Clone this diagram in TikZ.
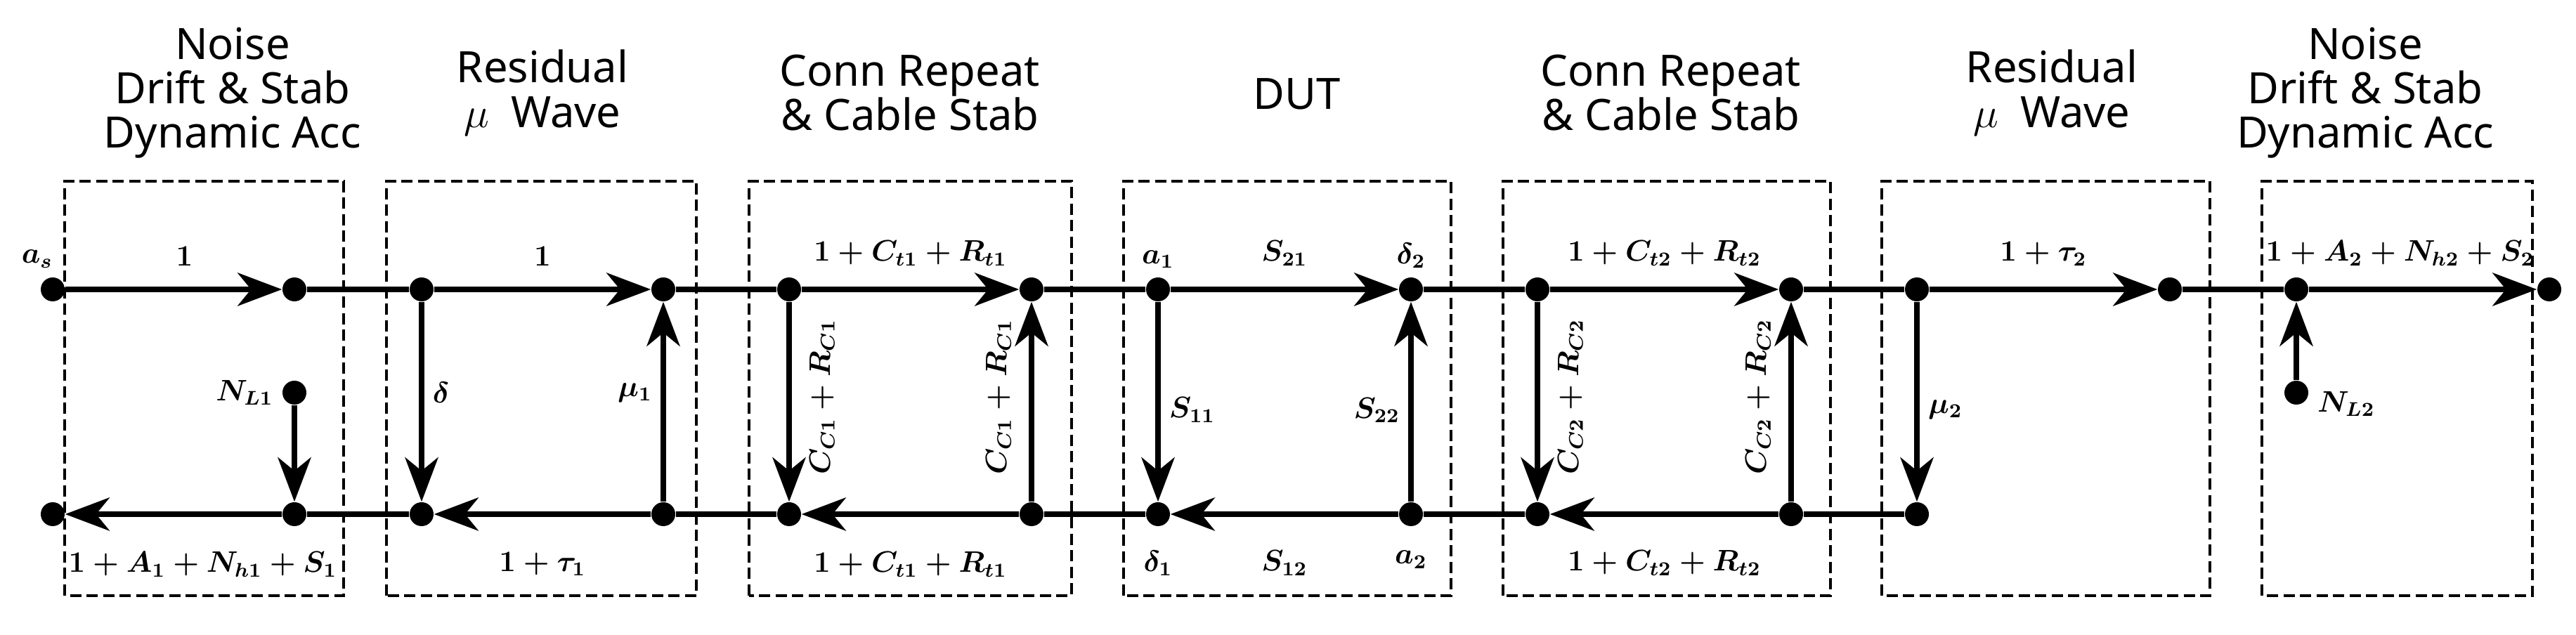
\documentclass[tikz,border=0pt]{standalone}
\usepackage{amsmath, amssymb, bm}
\usepackage[no-math]{fontspec}
\setmainfont{Noto Sans}
\usetikzlibrary{arrows.meta}

\begin{document}
\begin{tikzpicture}[
    dot/.style={circle, fill=black, inner sep=0pt, minimum size=0.34cm},
    wire/.style={line width=0.085cm},
    flow/.style={wire, -{Stealth[length=0.63cm, width=0.47cm, inset=0.19cm]}},
    block/.style={draw, dash pattern=on 0.16cm off 0.075cm, line width=0.035cm},
    head/.style={font=\fontsize{17.5}{18}\selectfont, align=center},
    lbl/.style={font=\fontsize{12}{14}\selectfont\boldmath},
    below lbl/.style={lbl, label distance=0.22cm},
    side lbl/.style={lbl, rotate=90, inner sep=0.25cm}
]
    \useasboundingbox (0,0) rectangle (36.66,9.04);

    % Define the dashed blocks and their titles
    \draw[block] (0.92,0.56) rectangle (4.89,6.46);
    \draw[block] (5.50,0.56) rectangle (9.91,6.46);
    \draw[block] (10.66,0.56) rectangle (15.25,6.46);
    \draw[block] (15.99,0.56) rectangle (20.65,6.46);
    \draw[block] (21.39,0.56) rectangle (26.05,6.46);
    \draw[block] (26.78,0.56) rectangle (31.45,6.46);
    \draw[block] (32.19,0.56) rectangle (36.04,6.46);

    \node[head] (h1) at (3.31,7.72) {Noise\\Drift \& Stab\\Dynamic Acc};
    \node[head] (h2) at (7.72,7.72) {Residual\\$\mu$\enspace Wave};
    \node[head] (h3) at (12.95,7.72) {Conn Repeat\\\& Cable Stab};
    \node[head] (h4) at (18.46,7.70) {DUT};
    \node[head] (h5) at (23.78,7.72) {Conn Repeat\\\& Cable Stab};
    \node[head] (h6) at (29.20,7.72) {Residual\\$\mu$\enspace Wave};
    \node[head] (h7) at (33.66,7.72) {Noise\\Drift \& Stab\\Dynamic Acc};

    % Define positions of the nodes on the upper line
    \node[dot, label={[lbl, xshift=0.25cm, yshift=0.06cm]above left:$a_s$}] (as) at (0.75,4.92) {};
    \node[dot] (t1) at (4.19,4.92) {};
    \node[dot] (t2) at (6.00,4.92) {};
    \node[dot] (t3) at (9.44,4.92) {};
    \node[dot] (t4) at (11.23,4.92) {};
    \node[dot] (t5) at (14.68,4.92) {};
    \node[dot, label={[lbl]above:$a_1$}] (a1) at (16.48,4.92) {};
    \node[dot, label={[lbl]above:$\delta_2$}] (d2) at (20.08,4.92) {};
    \node[dot] (t8) at (21.88,4.92) {};
    \node[dot] (t9) at (25.49,4.92) {};
    \node[dot] (t10) at (27.28,4.92) {};
    \node[dot] (t11) at (30.88,4.92) {};
    \node[dot] (t12) at (32.68,4.92) {};
    \node[dot] (bs) at (36.28,4.92) {};

    % Define positions of the nodes on the lower line
    \node[dot] (b0) at (0.75,1.72) {};
    \node[dot] (b1) at (4.19,1.72) {};
    \node[dot] (b2) at (6.00,1.72) {};
    \node[dot] (b3) at (9.44,1.72) {};
    \node[dot] (b4) at (11.23,1.72) {};
    \node[dot] (b5) at (14.68,1.72) {};
    \node[dot, label={[below lbl]below:$\delta_1$}] (d1) at (16.48,1.72) {};
    \node[dot, label={[below lbl]below:$a_2$}] (a2) at (20.08,1.72) {};
    \node[dot] (b8) at (21.88,1.72) {};
    \node[dot] (b9) at (25.49,1.72) {};
    \node[dot] (b10) at (27.28,1.72) {};

    % Noise sources
    \node[dot, label={[lbl]left:$N_{L1}$}] (nl1) at (4.19,3.45) {};
    \node[dot, label={[lbl, yshift=-0.16cm]right:$N_{L2}$}] (nl2) at (32.68,3.45) {};

    % Draw the upper line
    \draw[flow] (as) -- node[lbl, pos=0.55, above=0.18cm] {$1$} (t1);
    \draw[wire] (t1) -- (t2);
    \draw[flow] (t2) -- node[lbl, above=0.18cm] {$1$} (t3);
    \draw[wire] (t3) -- (t4);
    \draw[flow] (t4) -- node[lbl, above=0.18cm] {$1+C_{t1}+R_{t1}$} (t5);
    \draw[wire] (t5) -- (a1);
    \draw[flow] (a1) -- node[lbl, above=0.18cm] {$S_{21}$} (d2);
    \draw[wire] (d2) -- (t8);
    \draw[flow] (t8) -- node[lbl, above=0.18cm] {$1+C_{t2}+R_{t2}$} (t9);
    \draw[wire] (t9) -- (t10);
    \draw[flow] (t10) -- node[lbl, above=0.18cm] {$1+\tau_2$} (t11);
    \draw[wire] (t11) -- (t12);
    \draw[flow] (t12) -- node[lbl, pos=0.4, above=0.18cm] {$1+A_2+N_{h2}+S_2$} (bs);

    % Draw the lower line
    \draw[wire] (b10) -- (b9);
    \draw[flow] (b9) -- node[lbl, below=0.36cm] {$1+C_{t2}+R_{t2}$} (b8);
    \draw[wire] (b8) -- (a2);
    \draw[flow] (a2) -- node[lbl, below=0.36cm] {$S_{12}$} (d1);
    \draw[wire] (d1) -- (b5);
    \draw[flow] (b5) -- node[lbl, below=0.38cm] {$1+C_{t1}+R_{t1}$} (b4);
    \draw[wire] (b4) -- (b3);
    \draw[flow] (b3) -- node[lbl, below=0.38cm] {$1+\tau_1$} (b2);
    \draw[wire] (b2) -- (b1);
    \draw[flow] (b1) -- node[lbl, pos=0.365, below=0.38cm] {$1+A_1+N_{h1}+S_1$} (b0);

    % Draw the branches between the lines
    \draw[flow] (nl1) -- (b1);
    \draw[flow] (nl2) -- (t12);
    \draw[flow] (t2) -- node[lbl, pos=0.455, right] {$\delta$} (b2);
    \draw[flow] (b3) -- node[lbl, pos=0.545, left] {$\mu_1$} (t3);
    \draw[flow] (t4) -- node[side lbl, pos=0.475, anchor=north] {$C_{C1}+R_{C1}$} (b4);
    \draw[flow] (b5) -- node[side lbl, pos=0.525, anchor=south] {$C_{C1}+R_{C1}$} (t5);
    \draw[flow] (a1) -- node[lbl, pos=0.54, right] {$S_{11}$} (d1);
    \draw[flow] (a2) -- node[lbl, pos=0.458, left] {$S_{22}$} (d2);
    \draw[flow] (t8) -- node[side lbl, pos=0.475, anchor=north] {$C_{C2}+R_{C2}$} (b8);
    \draw[flow] (b9) -- node[side lbl, pos=0.525, anchor=south] {$C_{C2}+R_{C2}$} (t9);
    \draw[flow] (t10) -- node[lbl, pos=0.54, right] {$\mu_2$} (b10);
\end{tikzpicture}
\end{document}
